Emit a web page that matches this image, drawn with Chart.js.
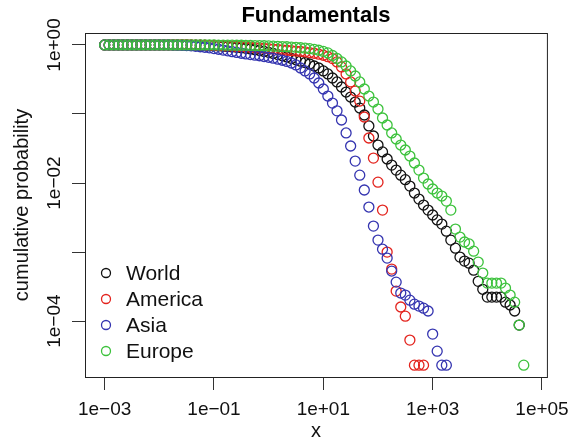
<!DOCTYPE html>
<html>
<head>
<meta charset="utf-8">
<title>Fundamentals</title>
<script src="https://cdn.jsdelivr.net/npm/chart.js@4.4.1/dist/chart.umd.min.js"></script>
<style>
  html, body { margin: 0; padding: 0; background: #fff; }
  #wrap { width: 577px; height: 443px; }
</style>
</head>
<body>
<div id="wrap"><canvas id="chart" width="577" height="443"></canvas></div>
<script>
// x positions where the cumulative probabilities were evaluated
const xGrid = [
  0.001, 0.00121, 0.00147, 0.00178, 0.00215, 0.00261, 0.00316, 0.00383, 0.00464, 0.00562, 0.00681, 0.00825,
  0.0100, 0.0121, 0.0147, 0.0178, 0.0215, 0.0261, 0.0316, 0.0383, 0.0464, 0.0562, 0.0681, 0.0825,
  0.100, 0.121, 0.147, 0.178, 0.215, 0.261, 0.316, 0.383, 0.464, 0.562, 0.681, 0.825,
  1.00, 1.21, 1.47, 1.78, 2.15, 2.61, 3.16, 3.83, 4.64, 5.62, 6.81, 8.25,
  10.0, 12.1, 14.7, 17.8, 21.5, 26.1, 31.6, 38.3, 46.4, 56.2, 68.1, 82.5,
  100, 121, 147, 178, 215, 261, 316, 383, 464, 562, 681, 825,
  1000, 1210, 1470, 1780, 2150, 2610, 3160, 3830, 4640, 5620, 6810, 8250,
  10000, 12100, 14700, 17800, 21500, 26100, 31600, 38300, 46400
];

const world = [
  1, 1, 1, 1, 1, 1, 1, 1, 1, 1, 1, 1, 1, 1, 1, 1, 1, 1, 1,
  0.997, 0.993, 0.990, 0.987, 0.980, 0.974, 0.967, 0.958, 0.948, 0.935, 0.923, 0.908, 0.893, 0.875,
  0.855, 0.832, 0.807, 0.781, 0.753, 0.726, 0.697, 0.670, 0.639, 0.610, 0.582, 0.556, 0.530,
  0.496, 0.464, 0.420, 0.380, 0.332, 0.291, 0.246, 0.208, 0.176, 0.149, 0.122, 0.0967, 0.0671, 0.0480,
  0.0355, 0.0282, 0.0223, 0.0182, 0.0154, 0.0130, 0.0112, 0.00904, 0.00716, 0.00586, 0.00480, 0.00406,
  0.00344, 0.00292, 0.00254, 0.00201, 0.00149, 0.00114, 0.000846, 0.000740, 0.000690, 0.000546,
  0.000377, 0.000289, 0.000223, 0.000223, 0.000223, 0.000223, 0.000188, 0.000171, 0.000140, 0.0000875
];

const america = [
  1, 1, 1, 1, 1, 1, 1, 1, 1, 1, 1, 1, 1, 1, 1, 1, 1, 1, 1, 1,
  0.997, 0.993, 0.990, 0.987, 0.983, 0.979, 0.974, 0.967, 0.961, 0.953, 0.945, 0.935, 0.926, 0.915,
  0.905, 0.894, 0.884, 0.872, 0.861, 0.849, 0.838, 0.827, 0.816, 0.805, 0.792, 0.776, 0.758, 0.736,
  0.709, 0.677, 0.635,
  0.567, 0.480, 0.380, 0.291, 0.215, 0.154, 0.0905, 0.0449, 0.0230, 0.0103, 0.00406, 0.00100,
  0.000567, 0.000272, 0.000160, 0.000118, 0.0000531, 0.0000230, 0.0000230, 0.0000230
];

const asia = [
  1, 1, 1, 1, 1, 1, 1, 1, 1, 1, 1, 1, 1, 1, 1,
  0.997, 0.993, 0.987, 0.980, 0.970, 0.958, 0.942, 0.926, 0.908, 0.887, 0.866, 0.843, 0.821, 0.800,
  0.779, 0.758, 0.741,
  0.726, 0.711, 0.698, 0.681, 0.663, 0.644, 0.623, 0.600, 0.577, 0.548, 0.513, 0.464, 0.420, 0.380,
  0.332, 0.281, 0.230, 0.182,
  0.144, 0.111, 0.0818, 0.0531, 0.0344, 0.0208, 0.0130, 0.00792, 0.00449, 0.00238, 0.00149, 0.00110,
  0.000818, 0.000531, 0.000367, 0.000255, 0.000238, 0.000201, 0.000176, 0.000165, 0.000154, 0.000140,
  0.0000649, 0.0000367, 0.0000230, 0.0000230
];

const europe = [
  1, 1, 1, 1, 1, 1, 1, 1, 1, 1, 1, 1, 1, 1, 1, 1, 1, 1, 1, 1, 1, 1, 1, 1, 1,
  0.997, 0.997, 0.993, 0.993, 0.990, 0.990, 0.987, 0.983, 0.980, 0.977, 0.974, 0.967, 0.961, 0.954,
  0.948, 0.942, 0.932, 0.923, 0.911, 0.899, 0.884, 0.864, 0.838, 0.805, 0.766,
  0.704, 0.637, 0.567, 0.496, 0.420, 0.355, 0.291, 0.230, 0.182, 0.149, 0.118, 0.0875, 0.0693, 0.0531,
  0.0434, 0.0355, 0.0301, 0.0246, 0.0195, 0.0154, 0.0118, 0.00968, 0.00819, 0.00716, 0.00648, 0.00548,
  0.00406, 0.00215, 0.00165, 0.00140, 0.00131, 0.00103, 0.000716, 0.000497,
  0.000355, 0.000355, 0.000355, 0.000355, 0.000301, 0.000238, 0.000188, 0.0000875, 0.0000230
];

const seriesNames = ['World', 'America', 'Asia', 'Europe'];
const seriesColors = ['#111111', '#e3231d', '#3434b0', '#3cc23c'];

const xTickValues = [1e-3, 1e-1, 1e1, 1e3, 1e5];
const xTickLabels = ['1e\u221203', '1e\u221201', '1e+01', '1e+03', '1e+05'];
const yTickValues = [1e-4, 1e-3, 1e-2, 1e-1, 1];
const yTickLabels = ['1e\u221204', '', '1e\u221202', '', '1e+00'];

const FONT = '"Liberation Sans", Arial, Helvetica, sans-serif';
Chart.defaults.font.family = FONT;
Chart.defaults.color = '#111';

function toPoints(values) {
  return values.map((y, i) => ({ x: xGrid[i], y: y }));
}

// box around the plot region, drawn like R's box()
const frame = {
  id: 'frame',
  afterDraw(chart) {
    const { ctx, chartArea: a } = chart;
    ctx.save();
    ctx.strokeStyle = '#222';
    ctx.lineWidth = 1;
    ctx.strokeRect(a.left + 0.5, a.top + 0.5, a.right - a.left, a.bottom - a.top);
    ctx.restore();
  }
};

// borderless legend in the lower left corner
const rLegend = {
  id: 'rLegend',
  afterDraw(chart) {
    const { ctx, chartArea: a } = chart;
    ctx.save();
    ctx.font = '21px ' + FONT;
    ctx.textBaseline = 'middle';
    seriesNames.forEach((name, i) => {
      const y = a.bottom - 104 + i * 26;
      ctx.beginPath();
      ctx.arc(a.left + 21, y, 4.5, 0, Math.PI * 2);
      ctx.strokeStyle = seriesColors[i];
      ctx.lineWidth = 1.3;
      ctx.stroke();
      ctx.fillStyle = '#111';
      ctx.fillText(name, a.left + 41, y + 1);
    });
    ctx.restore();
  }
};

const seriesValues = [world, america, asia, europe];
const datasets = seriesValues.map((vals, i) => ({
  label: seriesNames[i],
  data: toPoints(vals),
  showLine: false,
  pointStyle: 'circle',
  pointRadius: 5,
  pointHoverRadius: 5,
  pointBorderWidth: 1.3,
  borderColor: seriesColors[i],
  backgroundColor: 'rgba(0,0,0,0)',
  order: seriesValues.length - i
}));

new Chart(document.getElementById('chart'), {
  type: 'scatter',
  data: { datasets },
  options: {
    responsive: false,
    animation: false,
    devicePixelRatio: 1,
    layout: { padding: { top: 0, right: 27, bottom: 0, left: 0 } },
    plugins: {
      legend: { display: false },
      tooltip: { enabled: false },
      title: {
        display: true,
        fullSize: false,
        text: 'Fundamentals',
        color: '#000',
        font: { size: 22, weight: 'bold' },
        padding: { top: 3, bottom: 3.6 }
      }
    },
    scales: {
      x: {
        type: 'logarithmic',
        min: 0.000437,
        max: 123000,
        afterBuildTicks: (scale) => { scale.ticks = xTickValues.map(v => ({ value: v })); },
        afterFit: (scale) => { scale.height = 66; },
        ticks: {
          autoSkip: false,
          maxRotation: 0,
          minRotation: 0,
          padding: 8,
          color: '#111',
          font: { size: 19 },
          callback: (v, i) => xTickLabels[i]
        },
        grid: { display: true, drawOnChartArea: false, drawTicks: true, tickLength: 13, color: '#333' },
        border: { display: false },
        title: { display: true, text: 'x', color: '#111', font: { size: 20 }, padding: { top: 0, bottom: 0 } }
      },
      y: {
        type: 'logarithmic',
        min: 0.0000155,
        max: 1.49,
        afterBuildTicks: (scale) => { scale.ticks = yTickValues.map(v => ({ value: v })); },
        afterFit: (scale) => { scale.width = 85; },
        ticks: {
          autoSkip: false,
          minRotation: 90,
          maxRotation: 90,
          crossAlign: 'center',
          padding: -9,
          color: '#111',
          font: { size: 19 },
          callback: (v, i) => yTickLabels[i]
        },
        grid: { display: true, drawOnChartArea: false, drawTicks: true, tickLength: 13, color: '#333' },
        border: { display: false },
        title: { display: true, text: 'cumulative probability', color: '#111', font: { size: 20 }, padding: { top: 10, bottom: 0 } }
      }
    }
  },
  plugins: [frame, rLegend]
});
</script>
</body>
</html>
